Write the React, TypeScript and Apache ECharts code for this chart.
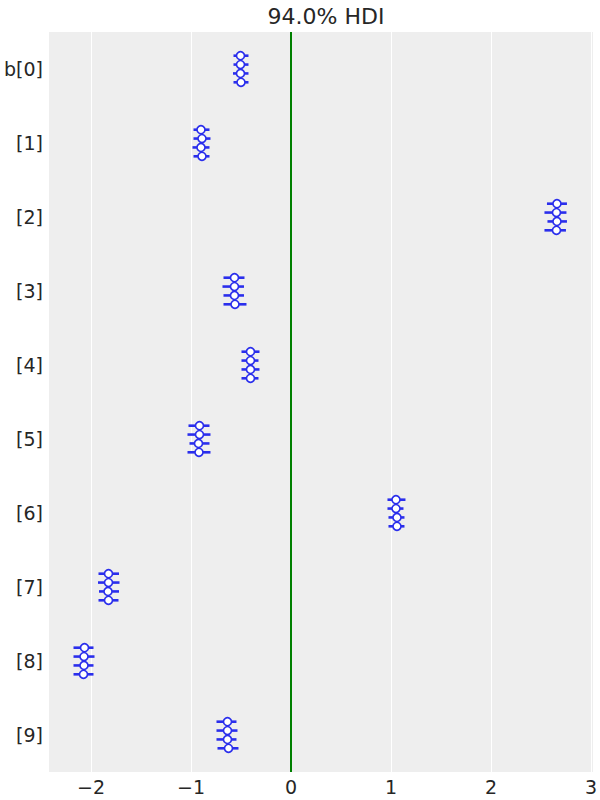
import React, { useEffect, useRef } from "react";
import * as echarts from "echarts";

const paramLabels = ["b[0]", "[1]", "[2]", "[3]", "[4]", "[5]", "[6]", "[7]", "[8]", "[9]"];
const chainCount = 4;

// per parameter, per chain: 94% HDI low / high and median
const hdiLow = [
  [-0.575, -0.575, -0.58, -0.575],
  [-0.975, -0.975, -0.985, -0.975],
  [2.56, 2.535, 2.565, 2.535],
  [-0.675, -0.685, -0.675, -0.675],
  [-0.495, -0.495, -0.495, -0.495],
  [-1.025, -1.035, -1.015, -1.035],
  [0.965, 0.965, 0.975, 0.975],
  [-1.925, -1.93, -1.92, -1.925],
  [-2.175, -2.175, -2.175, -2.175],
  [-0.745, -0.745, -0.745, -0.735],
];
const hdiHigh = [
  [-0.425, -0.425, -0.425, -0.425],
  [-0.815, -0.805, -0.815, -0.815],
  [2.76, 2.755, 2.76, 2.75],
  [-0.465, -0.47, -0.47, -0.445],
  [-0.315, -0.325, -0.315, -0.325],
  [-0.815, -0.805, -0.815, -0.805],
  [1.145, 1.125, 1.135, 1.135],
  [-1.72, -1.715, -1.72, -1.725],
  [-1.975, -1.965, -1.975, -1.975],
  [-0.545, -0.535, -0.545, -0.525],
];
const medians = [
  [-0.505, -0.505, -0.505, -0.5],
  [-0.9, -0.89, -0.9, -0.89],
  [2.66, 2.655, 2.66, 2.655],
  [-0.565, -0.565, -0.565, -0.56],
  [-0.405, -0.405, -0.405, -0.405],
  [-0.915, -0.915, -0.925, -0.92],
  [1.05, 1.05, 1.06, 1.06],
  [-1.825, -1.825, -1.83, -1.825],
  [-2.065, -2.07, -2.07, -2.075],
  [-0.635, -0.635, -0.635, -0.625],
];
const refValue = 0;
const chainSpacing = 0.12;

const BLUE = "#2a2eec";
const FONT = "DejaVu Sans";
const TEXT = "#262626";

export default function App() {
  const ref = useRef<HTMLDivElement>(null);
  useEffect(() => {
    if (!ref.current) return;
    const chart = echarts.init(ref.current, null, { renderer: "svg" });
    const lineData: number[][] = [];
    const pointData: number[][] = [];
    paramLabels.forEach((_, i) => {
      for (let c = 0; c < chainCount; c++) {
        const y = i + (c - (chainCount - 1) / 2) * chainSpacing;
        lineData.push([hdiLow[i][c], hdiHigh[i][c], y]);
        pointData.push([medians[i][c], y]);
      }
    });
    chart.setOption({
      animation: false,
      backgroundColor: "#ffffff",
      title: {
        text: "94.0% HDI",
        left: 321,
        textAlign: "center",
        top: 0,
        textStyle: { fontFamily: FONT, fontSize: 22, fontWeight: "normal", color: TEXT },
      },
      grid: {
        left: 49,
        right: 7,
        top: 32,
        bottom: 28,
        show: true,
        backgroundColor: "#eeeeee",
        borderWidth: 0,
      },
      xAxis: {
        type: "value",
        min: -2.42,
        max: 3.02,
        splitNumber: 5,
        axisLine: { show: false },
        axisTick: { show: false },
        axisLabel: {
          showMinLabel: false,
          showMaxLabel: false,
          fontFamily: FONT,
          fontSize: 19,
          color: TEXT,
          margin: 5,
          formatter: (v: number) => String(v).replace("-", "\u2212"),
        },
        splitLine: {
          show: true,
          showMinLine: false,
          showMaxLine: false,
          lineStyle: { color: "#ffffff", width: 1 },
        },
      },
      yAxis: [
        {
          type: "category",
          data: paramLabels,
          inverse: true,
          boundaryGap: true,
          axisLine: { show: false },
          axisTick: { show: false },
          splitLine: { show: false },
          axisLabel: { fontFamily: FONT, fontSize: 19, color: TEXT, margin: 6 },
        },
        {
          type: "value",
          min: -0.5,
          max: paramLabels.length - 0.5,
          inverse: true,
          show: false,
          splitLine: { show: false },
        },
      ],
      series: [
        {
          type: "custom",
          yAxisIndex: 1,
          data: lineData,
          renderItem: (params: any, api: any) => {
            const p1 = api.coord([api.value(0), api.value(2)]);
            const p2 = api.coord([api.value(1), api.value(2)]);
            return {
              type: "line",
              shape: { x1: p1[0], y1: p1[1], x2: p2[0], y2: p2[1] },
              style: { stroke: BLUE, lineWidth: 2.6 },
            };
          },
          markLine: {
            silent: true,
            symbol: "none",
            label: { show: false },
            lineStyle: { color: "#008000", width: 2, type: "solid" },
            data: [{ xAxis: refValue }],
          },
        },
        {
          type: "scatter",
          yAxisIndex: 1,
          data: pointData,
          symbol: "circle",
          symbolSize: 8,
          itemStyle: { color: "#ffffff", borderColor: BLUE, borderWidth: 1.6, opacity: 1 },
          z: 5,
        },
      ],
    });
    return () => chart.dispose();
  }, []);
  return (
    <div
      ref={ref}
      style={{ position: "fixed", left: 0, top: 0, width: 600, height: 800 }}
    />
  );
}
